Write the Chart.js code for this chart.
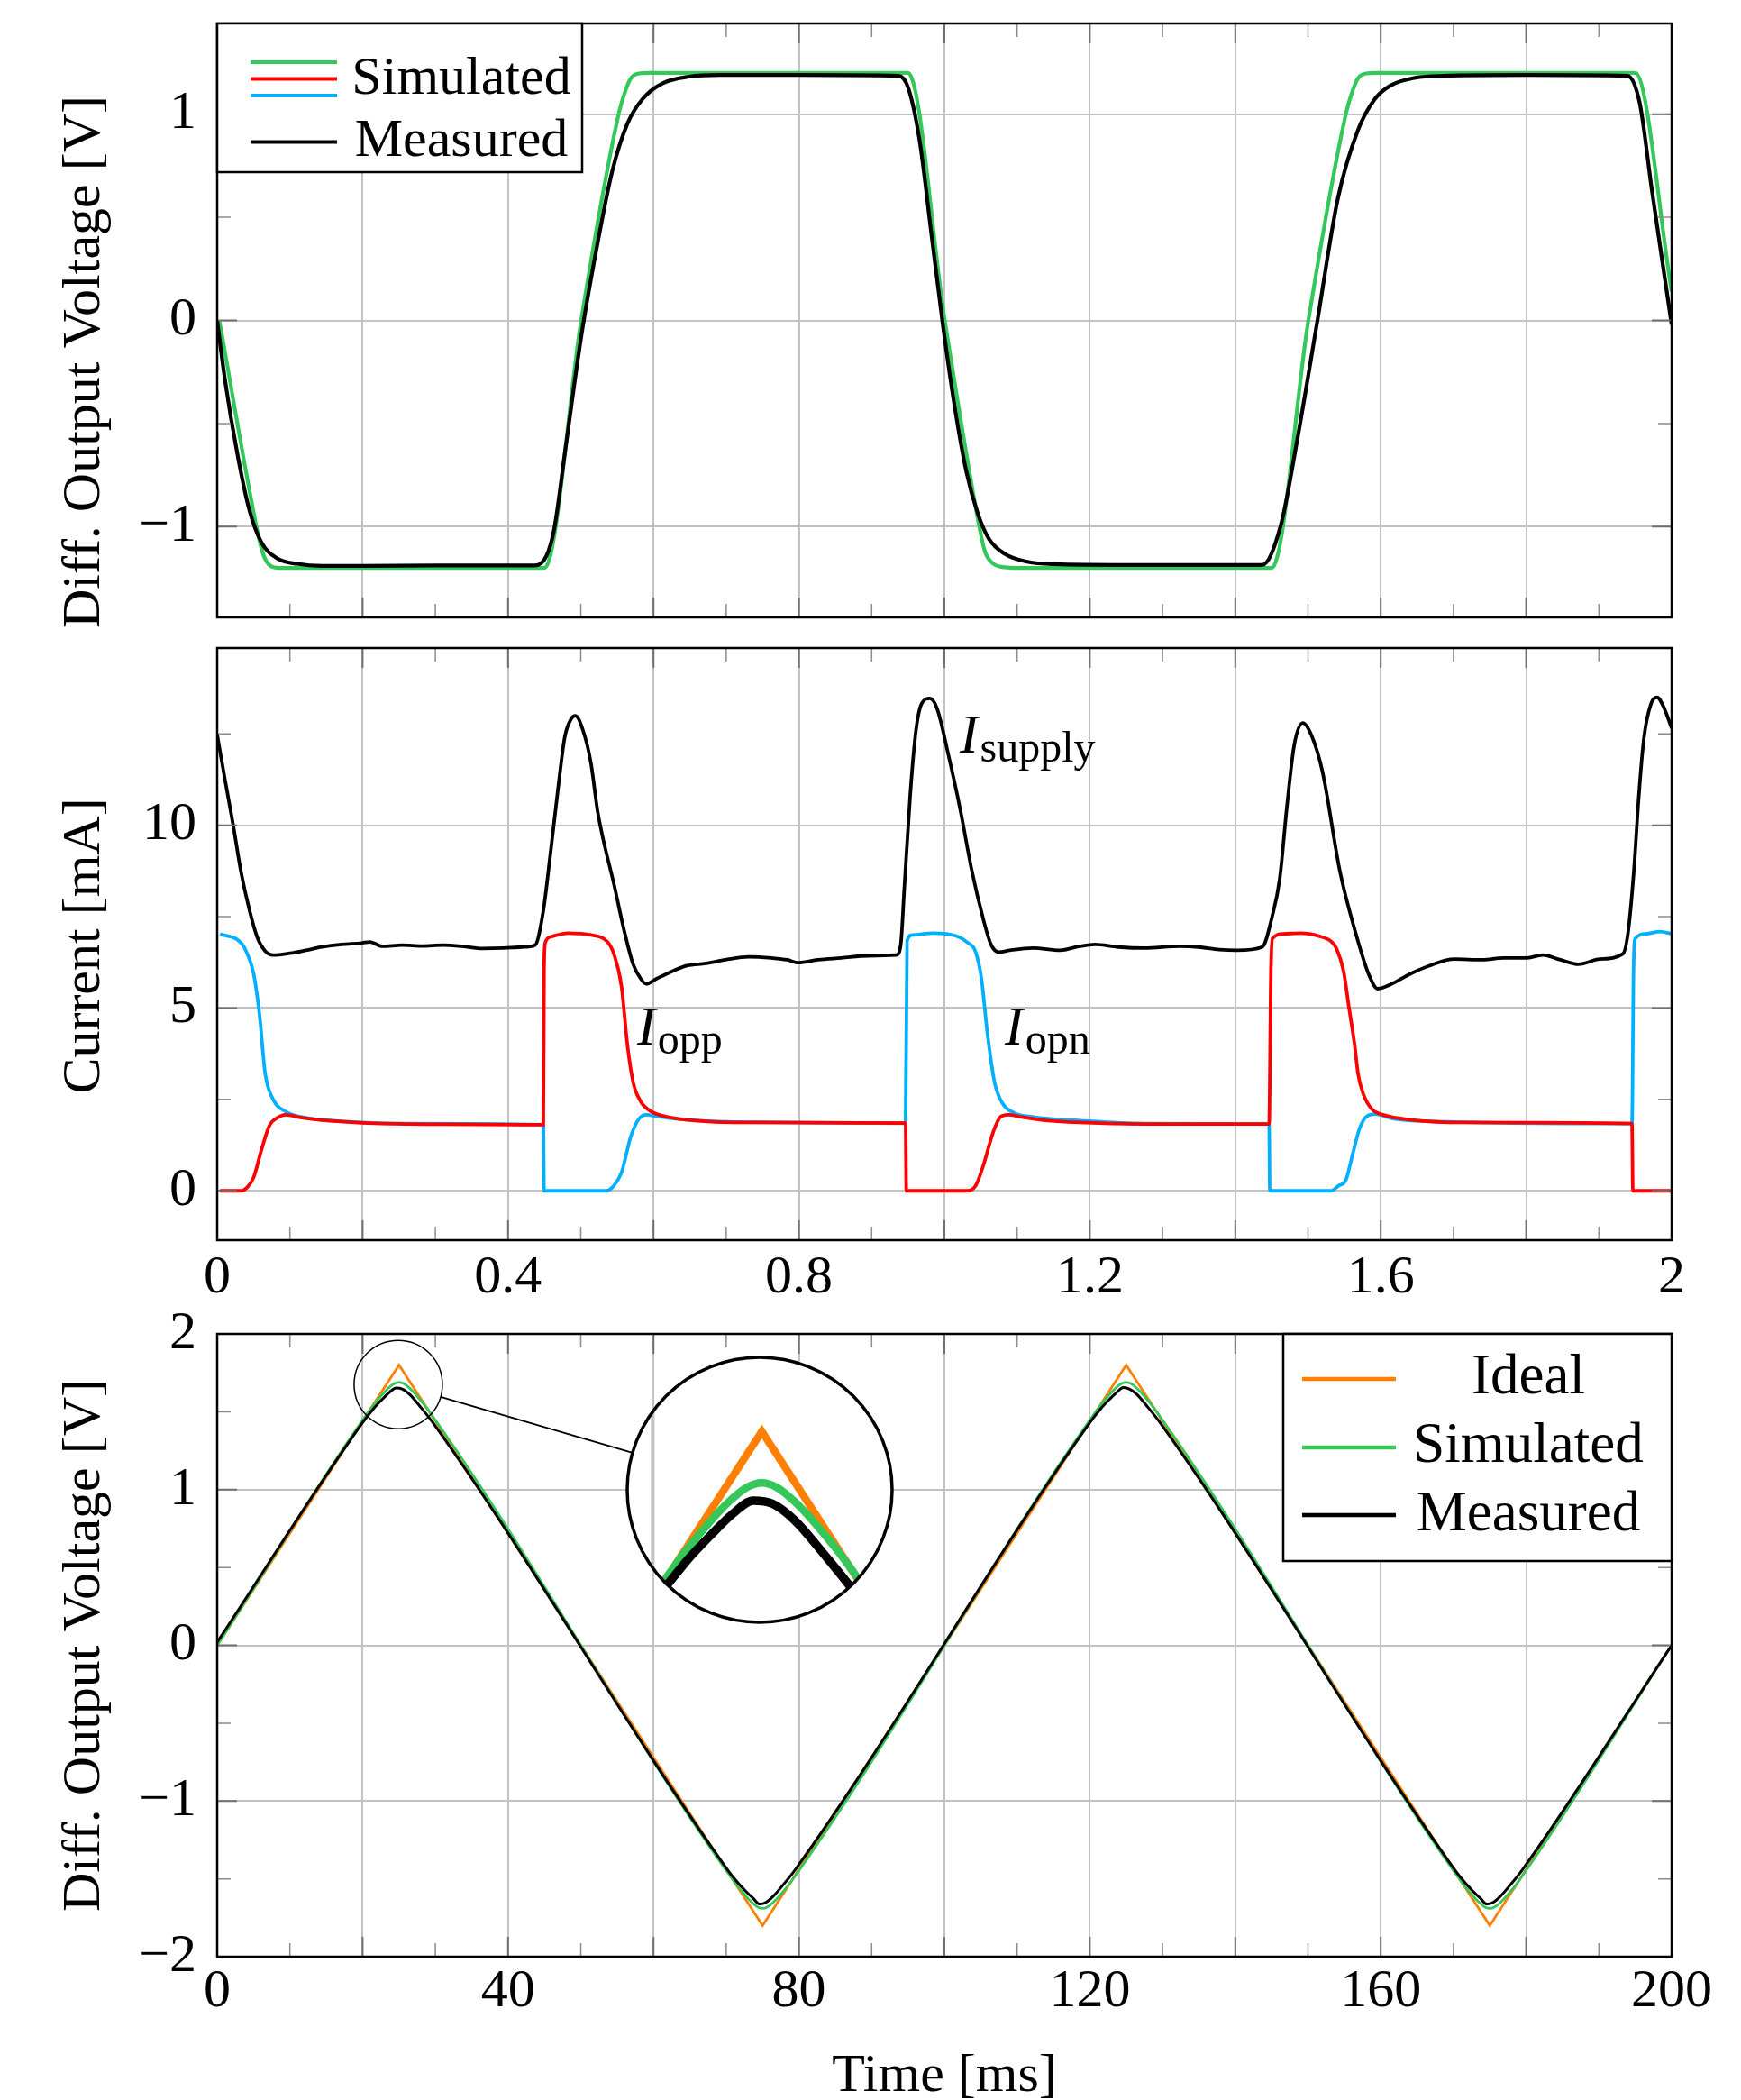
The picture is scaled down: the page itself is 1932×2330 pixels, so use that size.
<!DOCTYPE html>
<html>
<head>
<meta charset="utf-8">
<title>Differential output voltage and currents</title>
<script src="https://cdn.jsdelivr.net/npm/chart.js@4.4.1/dist/chart.umd.min.js"></script>
<style>
  html, body { margin: 0; padding: 0; background: #fff; }
  #page { position: relative; width: 1932px; height: 2330px; overflow: hidden; }
  canvas { position: absolute; left: 0; }
  #voltage-chart { top: 0; }
  #current-chart { top: 700px; }
  #triangle-chart { top: 1440px; }
  #zoom-chart { left: 693px; top: 1503px; }
</style>
</head>
<body>
<div id="page">
  <canvas id="voltage-chart" width="1932" height="710"></canvas>
  <canvas id="current-chart" width="1932" height="770"></canvas>
  <canvas id="triangle-chart" width="1932" height="890"></canvas>
  <canvas id="zoom-chart" width="300" height="300"></canvas>
</div>
<script>
// ---------- DATA ----------

// top: square drive, differential output voltage (t in ms, V)
const sqSimTime = [0.003, 0.054, 0.062, 0.068, 0.076, 0.090, 0.450, 0.5005, 0.552, 0.561, 0.568, 0.577, 0.595,
  0.950, 1.0005, 1.048, 1.056, 1.067, 1.083, 1.100, 1.450, 1.5005, 1.552, 1.561, 1.568, 1.577, 1.595, 1.950, 2.000];
const sqSimVolt = [0.0, -1.0, -1.12, -1.17, -1.195, -1.2, -1.2, 0.0, 1.0, 1.11, 1.17, 1.195, 1.2,
  1.2, 0.0, -1.0, -1.123, -1.179, -1.197, -1.2, -1.2, 0.0, 1.0, 1.11, 1.17, 1.195, 1.2, 1.2, 0.14];

const sqMeasTime = [0.000, 0.011, 0.0277, 0.0443, 0.061, 0.083, 0.110, 0.144, 0.200, 0.300, 0.437, 0.453, 0.4635,
  0.479, 0.5005, 0.5217, 0.543, 0.564, 0.585, 0.612, 0.649, 0.691, 0.800, 0.937, 0.950, 0.966, 0.982, 0.998,
  1.014, 1.030, 1.046, 1.061, 1.083, 1.114, 1.150, 1.250, 1.437, 1.4626, 1.485, 1.513, 1.541, 1.569, 1.592,
  1.614, 1.648, 1.687, 1.800, 1.939, 1.956, 1.973, 2.000];
const sqMeasVolt = [0.0, -0.295, -0.646, -0.92, -1.077, -1.155, -1.18, -1.19, -1.19, -1.188, -1.188, -1.14, -1.01,
  -0.62, -0.08, 0.348, 0.72, 0.953, 1.074, 1.149, 1.182, 1.19, 1.19, 1.186, 1.13, 0.87, 0.423, -0.024,
  -0.415, -0.73, -0.937, -1.058, -1.132, -1.17, -1.182, -1.186, -1.186, -0.993, -0.583, 0.0, 0.59, 0.925, 1.074,
  1.14, 1.177, 1.186, 1.19, 1.186, 1.056, 0.628, -0.02];

// middle: currents (t in ms, mA)
const supplyTime = [0.000, 0.011, 0.022, 0.033, 0.044, 0.055, 0.066, 0.077, 0.100, 0.122, 0.144, 0.171, 0.199,
  0.210, 0.227, 0.254, 0.282, 0.310, 0.337, 0.365, 0.393, 0.420, 0.437, 0.448, 0.459, 0.470, 0.478, 0.487,
  0.4926, 0.503, 0.514, 0.523, 0.531, 0.5455, 0.5587, 0.572, 0.5825, 0.590, 0.604, 0.625, 0.646, 0.672,
  0.699, 0.731, 0.762, 0.784, 0.799, 0.826, 0.858, 0.895, 0.934, 0.940, 0.945, 0.953, 0.961, 0.969, 0.980,
  0.990, 1.006, 1.022, 1.038, 1.053, 1.064, 1.075, 1.090, 1.122, 1.159, 1.186, 1.207, 1.239, 1.275, 1.324,
  1.349, 1.378, 1.402, 1.437, 1.451, 1.461, 1.471, 1.481, 1.493, 1.505, 1.520, 1.544, 1.564, 1.584, 1.596,
  1.613, 1.642, 1.667, 1.701, 1.740, 1.769, 1.799, 1.823, 1.847, 1.872, 1.901, 1.933, 1.940, 1.948, 1.955,
  1.962, 1.972, 1.980, 1.989, 2.000];
const supplyCurrent = [12.48, 11.22, 10.01, 8.70, 7.71, 6.94, 6.56, 6.45, 6.50, 6.58, 6.67, 6.74, 6.78,
  6.81, 6.69, 6.72, 6.70, 6.72, 6.69, 6.63, 6.64, 6.67, 6.72, 7.60, 9.35, 11.22, 12.42, 12.92,
  13.0, 12.6, 11.7, 10.4, 9.6, 8.4, 7.2, 6.2, 5.8, 5.66, 5.80, 6.00, 6.16, 6.22,
  6.32, 6.40, 6.37, 6.32, 6.24, 6.32, 6.37, 6.43, 6.45, 6.74, 8.31, 10.83, 12.61, 13.34, 13.47,
  13.19, 11.88, 10.41, 8.73, 7.47, 6.74, 6.53, 6.58, 6.64, 6.58, 6.69, 6.74, 6.67, 6.64, 6.69,
  6.67, 6.60, 6.58, 6.67, 7.53, 8.52, 10.51, 12.19, 12.80, 12.45, 11.46, 8.73, 7.16, 5.90, 5.53,
  5.64, 5.95, 6.16, 6.34, 6.32, 6.37, 6.37, 6.45, 6.32, 6.20, 6.34, 6.48, 7.05, 8.73, 10.83,
  12.40, 13.34, 13.50, 13.24, 12.66];

const oppTime = [0.004, 0.033, 0.041, 0.050, 0.061, 0.072, 0.083, 0.094, 0.116, 0.144, 0.199, 0.310, 0.4485,
  0.4495, 0.451, 0.459, 0.482, 0.514, 0.5376, 0.5455, 0.556, 0.564, 0.572, 0.5825, 0.596, 0.620, 0.657,
  0.710, 0.9466, 0.9476, 1.032, 1.043, 1.053, 1.067, 1.077, 1.088, 1.106, 1.133, 1.186, 1.275, 1.4465,
  1.449, 1.451, 1.466, 1.490, 1.515, 1.532, 1.539, 1.549, 1.556, 1.564, 1.569, 1.576, 1.588, 1.603,
  1.642, 1.715, 1.9455, 1.9467, 2.000];
const oppCurrent = [0.0, 0.0, 0.09, 0.36, 1.13, 1.79, 2.00, 2.08, 2.00, 1.93, 1.86, 1.82, 1.81,
  6.06, 6.78, 6.95, 7.05, 7.00, 6.79, 6.48, 5.59, 4.01, 2.97, 2.44, 2.18, 2.02, 1.92,
  1.87, 1.85, 0.0, 0.0, 0.14, 0.66, 1.60, 2.02, 2.08, 2.02, 1.94, 1.87, 1.83, 1.83,
  6.0, 6.9, 7.03, 7.05, 6.97, 6.82, 6.64, 6.00, 5.06, 4.01, 3.18, 2.65, 2.23, 2.08,
  1.94, 1.87, 1.84, 0.0, 0.0];

const opnTime = [0.004, 0.033, 0.041, 0.050, 0.058, 0.066, 0.077, 0.094, 0.122, 0.171, 0.254, 0.4485, 0.4495,
  0.535, 0.5455, 0.556, 0.569, 0.580, 0.5905, 0.6037, 0.630, 0.683, 0.762, 0.9466, 0.9487, 0.9556, 0.985,
  1.0164, 1.032, 1.043, 1.051, 1.059, 1.069, 1.080, 1.096, 1.122, 1.186, 1.275, 1.4465, 1.4475, 1.532,
  1.542, 1.552, 1.561, 1.571, 1.581, 1.593, 1.618, 1.691, 1.9455, 1.9477, 1.950, 1.965, 1.984, 2.000];
const opnCurrent = [7.03, 6.78, 6.50, 5.95, 4.86, 3.21, 2.50, 2.17, 2.00, 1.90, 1.84, 1.81, 0.0,
  0.0, 0.14, 0.50, 1.50, 1.97, 2.08, 2.04, 1.97, 1.90, 1.87, 1.85, 6.84, 7.00, 7.05,
  6.97, 6.79, 6.53, 5.80, 4.33, 2.97, 2.39, 2.13, 2.02, 1.92, 1.84, 1.83, 0.0, 0.0,
  0.14, 0.29, 0.97, 1.71, 2.04, 2.10, 1.97, 1.89, 1.84, 6.11, 6.9, 7.03, 7.09, 7.03];

// bottom: triangle drive (t in ms, V)
const triIdealTime = [0, 25, 75, 125, 175, 200];
const triIdealVolt = [0, 1.8, -1.8, 1.8, -1.8, 0];

const triSimTime = [0, 21, 22.5, 23.5, 24.3, 25, 25.7, 26.5, 27.5, 29,
  71, 72.5, 73.5, 74.3, 75, 75.7, 76.5, 77.5, 79,
  121, 122.5, 123.5, 124.3, 125, 125.7, 126.5, 127.5, 129,
  171, 172.5, 173.5, 174.3, 175, 175.7, 176.5, 177.5, 179, 200];
const triSimVolt = [0, 1.512, 1.60, 1.65, 1.68, 1.69, 1.68, 1.65, 1.60, 1.512,
  -1.512, -1.60, -1.65, -1.68, -1.69, -1.68, -1.65, -1.60, -1.512,
  1.512, 1.60, 1.65, 1.68, 1.69, 1.68, 1.65, 1.60, 1.512,
  -1.512, -1.60, -1.65, -1.68, -1.69, -1.68, -1.65, -1.60, -1.512, 0];

const triMeasTime = [0, 20, 21.5, 22.7, 23.7, 24.6, 25.5, 26.5, 27.8, 29.5,
  70, 71.5, 72.7, 73.7, 74.6, 75.5, 76.5, 77.8, 79.5,
  120, 121.5, 122.7, 123.7, 124.6, 125.5, 126.5, 127.8, 129.5,
  170, 171.5, 172.7, 173.7, 174.6, 175.5, 176.5, 177.8, 179.5, 200];
const triMeasVolt = [0.02, 1.43, 1.52, 1.58, 1.625, 1.652, 1.645, 1.61, 1.54, 1.44,
  -1.43, -1.52, -1.58, -1.625, -1.662, -1.65, -1.61, -1.54, -1.44,
  1.43, 1.52, 1.58, 1.625, 1.655, 1.645, 1.61, 1.54, 1.44,
  -1.43, -1.52, -1.58, -1.625, -1.662, -1.65, -1.61, -1.54, -1.44, 0.0];

// ticks
const timeTicks = [0, 0.2, 0.4, 0.6, 0.8, 1.0, 1.2, 1.4, 1.6, 1.8, 2.0];
const timeLabels = ['0', '', '0.4', '', '0.8', '', '1.2', '', '1.6', '', '2'];
const timeMinor = [0.1, 0.3, 0.5, 0.7, 0.9, 1.1, 1.3, 1.5, 1.7, 1.9];
const sqVoltTicks = [-1, 0, 1];
const sqVoltLabels = ['\u22121', '0', '1'];
const sqVoltMinor = [-0.5, 0.5];
const currentTicks = [0, 5, 10];
const currentLabels = ['0', '5', '10'];
const currentMinor = [2.5, 7.5, 12.5];
const triTimeTicks = [0, 20, 40, 60, 80, 100, 120, 140, 160, 180, 200];
const triTimeLabels = ['0', '', '40', '', '80', '', '120', '', '160', '', '200'];
const triTimeMinor = [10, 30, 50, 70, 90, 110, 130, 150, 170, 190];
const triVoltTicks = [-2, -1, 0, 1, 2];
const triVoltLabels = ['\u22122', '\u22121', '0', '1', '2'];
const triVoltMinor = [-1.5, -0.5, 0.5, 1.5];

// ---------- STYLE ----------
const GREEN = '#34c759';
const RED = '#ff0000';
const BLUE = '#00b0ff';
const ORANGE = '#ff8000';
const BLACK = '#000000';
const GRID = '#c2c2c2';
const FAMILY = '"Liberation Serif", "Times New Roman", "DejaVu Serif", serif';
const FONT = '60px ' + FAMILY;

Chart.defaults.font.family = FAMILY;
Chart.defaults.font.size = 60;
Chart.defaults.font.lineHeight = 1.2;
Chart.defaults.color = '#000';

const pts = (xs, ys) => xs.map((x, i) => ({ x: x, y: ys[i] }));

function line(label, data, color, width, smooth) {
  return {
    label: label,
    data: data,
    borderColor: color,
    borderWidth: width,
    pointRadius: 0,
    fill: false,
    tension: 0,
    cubicInterpolationMode: smooth ? 'monotone' : 'default',
  };
}

function xAxis(ticks, labels, height, pad) {
  return {
    type: 'linear',
    min: ticks[0],
    max: ticks[ticks.length - 1],
    afterBuildTicks: (s) => { s.ticks = ticks.map((v) => ({ value: v })); },
    afterFit: (s) => { s.height = height; s.paddingLeft = 0; s.paddingRight = 0; },
    grid: { color: GRID, lineWidth: 2, drawTicks: false },
    border: { display: false },
    ticks: {
      display: labels !== null,
      autoSkip: false,
      maxRotation: 0,
      padding: pad,
      callback: (v, i) => (labels ? labels[i] : ''),
    },
  };
}

function yAxis(min, max, ticks, labels) {
  return {
    type: 'linear',
    min: min,
    max: max,
    afterBuildTicks: (s) => { s.ticks = ticks.map((v) => ({ value: v })); },
    afterFit: (s) => { s.width = 241; s.paddingTop = 0; s.paddingBottom = 0; },
    grid: { color: GRID, lineWidth: 2, drawTicks: false },
    border: { display: false },
    ticks: { padding: 23, autoSkip: false, callback: (v, i) => labels[i] },
  };
}

// inward tick marks, frame, axis titles and extras
function makeFrame(cfg) {
  return {
    id: 'frame',
    afterDatasetsDraw(chart) {
      const ctx = chart.ctx;
      const a = chart.chartArea;
      const x = chart.scales.x;
      const y = chart.scales.y;
      ctx.save();
      const vMarks = (vals, len, color, w) => {
        ctx.strokeStyle = color;
        ctx.lineWidth = w;
        ctx.beginPath();
        vals.forEach((v) => {
          const px = x.getPixelForValue(v);
          ctx.moveTo(px, a.bottom); ctx.lineTo(px, a.bottom - len);
          ctx.moveTo(px, a.top); ctx.lineTo(px, a.top + len);
        });
        ctx.stroke();
      };
      const hMarks = (vals, len, color, w) => {
        ctx.strokeStyle = color;
        ctx.lineWidth = w;
        ctx.beginPath();
        vals.forEach((v) => {
          const py = y.getPixelForValue(v);
          ctx.moveTo(a.left, py); ctx.lineTo(a.left + len, py);
          ctx.moveTo(a.right, py); ctx.lineTo(a.right - len, py);
        });
        ctx.stroke();
      };
      vMarks(cfg.xMajor, 22, '#707070', 2);
      vMarks(cfg.xMinor, 15, '#8c8c8c', 1.5);
      hMarks(cfg.yMajor, 22, '#707070', 2);
      hMarks(cfg.yMinor, 15, '#8c8c8c', 1.5);

      if (cfg.extra) cfg.extra(chart, ctx, a, x, y);

      ctx.strokeStyle = BLACK;
      ctx.lineWidth = 2.5;
      ctx.strokeRect(a.left, a.top, a.right - a.left, a.bottom - a.top);

      // y title, rotated
      ctx.fillStyle = BLACK;
      ctx.font = FONT;
      ctx.textAlign = 'center';
      ctx.textBaseline = 'alphabetic';
      ctx.save();
      ctx.translate(110, (a.top + a.bottom) / 2 + cfg.titleShift);
      ctx.rotate(-Math.PI / 2);
      ctx.fillText(cfg.yTitle, 0, 0);
      ctx.restore();

      if (cfg.legend) cfg.legend(chart, ctx, a);
      ctx.restore();
    },
  };
}

function drawLegendBox(ctx, left, top, w, h) {
  ctx.fillStyle = '#fff';
  ctx.fillRect(left, top, w, h);
  ctx.strokeStyle = BLACK;
  ctx.lineWidth = 2.5;
  ctx.strokeRect(left, top, w, h);
}

function sample(ctx, color, x0, x1, yy, w) {
  ctx.strokeStyle = color;
  ctx.lineWidth = w;
  ctx.beginPath();
  ctx.moveTo(x0, yy);
  ctx.lineTo(x1, yy);
  ctx.stroke();
}

function italicLabel(ctx, x, y, sub) {
  ctx.fillStyle = BLACK;
  ctx.textAlign = 'left';
  ctx.textBaseline = 'alphabetic';
  ctx.font = 'italic 62px ' + FAMILY;
  ctx.fillText('I', x, y);
  const w = ctx.measureText('I').width;
  ctx.font = '48px ' + FAMILY;
  ctx.fillText(sub, x + w + 2, y + 10);
}

// ---------- TOP: SQUARE RESPONSE ----------
const voltageChart = new Chart(document.getElementById('voltage-chart'), {
  type: 'line',
  data: {
    datasets: [
      line('Measured', pts(sqMeasTime, sqMeasVolt), BLACK, 4.2, true),
      line('Simulated', pts(sqSimTime, sqSimVolt), GREEN, 4.2, true),
    ],
  },
  options: {
    responsive: false,
    animation: false,
    layout: { padding: { top: 26, right: 77, left: 0, bottom: 0 } },
    plugins: { legend: { display: false }, tooltip: { enabled: false } },
    scales: {
      x: xAxis(timeTicks, null, 25, 0),
      y: yAxis(-1.44, 1.44, sqVoltTicks, sqVoltLabels),
    },
  },
  plugins: [makeFrame({
    xMajor: timeTicks, xMinor: timeMinor, yMajor: sqVoltTicks, yMinor: sqVoltMinor,
    yTitle: 'Diff. Output Voltage [V]', titleShift: 46,
    legend: (chart, ctx, a) => {
      const L = a.left, T = a.top;
      drawLegendBox(ctx, L, T, 405, 165);
      sample(ctx, GREEN, L + 37, L + 133, T + 43, 4);
      sample(ctx, RED, L + 37, L + 133, T + 61.5, 4);
      sample(ctx, BLUE, L + 37, L + 133, T + 80, 4);
      sample(ctx, BLACK, L + 37, L + 133, T + 131.5, 4);
      ctx.fillStyle = BLACK;
      ctx.font = FONT;
      ctx.textAlign = 'center';
      ctx.textBaseline = 'alphabetic';
      ctx.fillText('Simulated', L + 271, T + 78);
      ctx.fillText('Measured', L + 271, T + 147);
    },
  })],
});

// ---------- MIDDLE: CURRENTS ----------
const currentChart = new Chart(document.getElementById('current-chart'), {
  type: 'line',
  data: {
    datasets: [
      line('Isupply', pts(supplyTime, supplyCurrent), BLACK, 3.8, true),
      line('Iopp', pts(oppTime, oppCurrent), RED, 3.8, true),
      line('Iopn', pts(opnTime, opnCurrent), BLUE, 3.8, true),
    ],
  },
  options: {
    responsive: false,
    animation: false,
    layout: { padding: { top: 19, right: 77, left: 0, bottom: 0 } },
    plugins: { legend: { display: false }, tooltip: { enabled: false } },
    scales: {
      x: xAxis(timeTicks, timeLabels, 94, 6),
      y: yAxis(-1.35, 14.85, currentTicks, currentLabels),
    },
  },
  plugins: [makeFrame({
    xMajor: timeTicks, xMinor: timeMinor, yMajor: currentTicks, yMinor: currentMinor,
    yTitle: 'Current [mA]', titleShift: 2,
    legend: (chart, ctx, a) => {
      const x = chart.scales.x, y = chart.scales.y;
      italicLabel(ctx, x.getPixelForValue(1.021), y.getPixelForValue(11.98), 'supply');
      italicLabel(ctx, x.getPixelForValue(0.5775), y.getPixelForValue(4.01), 'opp');
      italicLabel(ctx, x.getPixelForValue(1.083), y.getPixelForValue(4.01), 'opn');
    },
  })],
});

// ---------- BOTTOM: TRIANGLE RESPONSE ----------
const zoomCenterT = 24.9;
const zoomCenterV = 1.675;
const zoomSmallR = 49;
const zoomBigR = 147;
const zoomMag = 3;
const bigCenter = { x: 843, y: 1653 - 1440 };

const triangleChart = new Chart(document.getElementById('triangle-chart'), {
  type: 'line',
  data: {
    datasets: [
      line('Measured', pts(triMeasTime, triMeasVolt), BLACK, 3.0, true),
      line('Simulated', pts(triSimTime, triSimVolt), GREEN, 2.8, true),
      line('Ideal', pts(triIdealTime, triIdealVolt), ORANGE, 2.8, false),
    ],
  },
  options: {
    responsive: false,
    animation: false,
    layout: { padding: { top: 40, right: 77, left: 0, bottom: 0 } },
    plugins: { legend: { display: false }, tooltip: { enabled: false } },
    scales: {
      x: xAxis(triTimeTicks, triTimeLabels, 159, 3),
      y: yAxis(-2, 2, triVoltTicks, triVoltLabels),
    },
  },
  plugins: [makeFrame({
    xMajor: triTimeTicks, xMinor: triTimeMinor, yMajor: triVoltTicks, yMinor: triVoltMinor,
    yTitle: 'Diff. Output Voltage [V]', titleShift: 0,
    extra: (chart, ctx, a, x, y) => {
      const cx = x.getPixelForValue(zoomCenterT);
      const cy = y.getPixelForValue(zoomCenterV);
      ctx.strokeStyle = BLACK;
      ctx.lineWidth = 1.5;
      ctx.beginPath();
      ctx.arc(cx, cy, zoomSmallR, 0, Math.PI * 2);
      ctx.stroke();
      const dx = bigCenter.x - cx, dy = bigCenter.y - cy;
      const d = Math.hypot(dx, dy);
      ctx.lineWidth = 2;
      ctx.beginPath();
      ctx.moveTo(cx + dx / d * zoomSmallR, cy + dy / d * zoomSmallR);
      ctx.lineTo(bigCenter.x - dx / d * zoomBigR, bigCenter.y - dy / d * zoomBigR);
      ctx.stroke();
    },
    legend: (chart, ctx, a) => {
      const W = 431, H = 252;
      const L = a.right - W, T = a.top;
      drawLegendBox(ctx, L, T, W, H);
      sample(ctx, ORANGE, L + 21, L + 125, T + 50, 4.5);
      sample(ctx, GREEN, L + 21, L + 125, T + 126, 4.5);
      sample(ctx, BLACK, L + 21, L + 125, T + 201, 4.5);
      ctx.fillStyle = BLACK;
      ctx.font = '63px ' + FAMILY;
      ctx.textAlign = 'center';
      ctx.textBaseline = 'alphabetic';
      ctx.fillText('Ideal', L + 272, T + 66);
      ctx.fillText('Simulated', L + 272, T + 142);
      ctx.fillText('Measured', L + 272, T + 218);
      // x title
      ctx.font = FONT;
      ctx.fillText('Time [ms]', (a.left + a.right) / 2, a.bottom + 149);
    },
  })],
});

// magnified peak, same data at 3x scale
const pxPerMs = 1614 / 200 * zoomMag;
const pxPerV = 691 / 4 * zoomMag;
const zoomChart = new Chart(document.getElementById('zoom-chart'), {
  type: 'line',
  data: {
    datasets: [
      line('Measured', pts(triMeasTime, triMeasVolt), BLACK, 9.5, true),
      line('Simulated', pts(triSimTime, triSimVolt), GREEN, 8.5, true),
      line('Ideal', pts(triIdealTime, triIdealVolt), ORANGE, 8.5, false),
    ],
  },
  options: {
    responsive: false,
    animation: false,
    layout: { padding: 0 },
    plugins: { legend: { display: false }, tooltip: { enabled: false } },
    scales: {
      x: { type: 'linear', display: false, min: zoomCenterT - 150 / pxPerMs, max: zoomCenterT + 150 / pxPerMs },
      y: { type: 'linear', display: false, min: zoomCenterV - 150 / pxPerV, max: zoomCenterV + 150 / pxPerV },
    },
  },
  plugins: [{
    id: 'lens',
    beforeDatasetsDraw(chart) {
      const ctx = chart.ctx;
      ctx.save();
      ctx.beginPath();
      ctx.arc(150, 150, zoomBigR, 0, Math.PI * 2);
      ctx.clip();
      ctx.fillStyle = '#fff';
      ctx.fillRect(0, 0, 300, 300);
      const gx = chart.scales.x.getPixelForValue(20);
      ctx.strokeStyle = GRID;
      ctx.lineWidth = 4;
      ctx.beginPath();
      ctx.moveTo(gx, 0);
      ctx.lineTo(gx, 300);
      ctx.stroke();
    },
    afterDatasetsDraw(chart) {
      const ctx = chart.ctx;
      ctx.restore();
      ctx.strokeStyle = BLACK;
      ctx.lineWidth = 3.5;
      ctx.beginPath();
      ctx.arc(150, 150, zoomBigR, 0, Math.PI * 2);
      ctx.stroke();
    },
  }],
});
</script>
</body>
</html>
